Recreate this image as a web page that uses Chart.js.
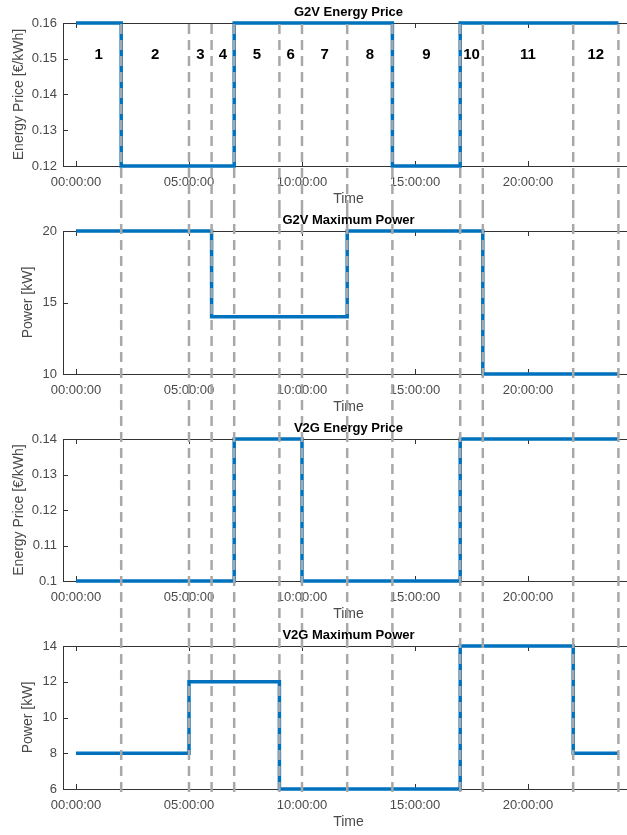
<!DOCTYPE html>
<html>
<head>
<meta charset="utf-8">
<script src="https://cdn.jsdelivr.net/npm/chart.js@4/dist/chart.umd.min.js"></script>
<style>
  html, body { margin: 0; padding: 0; background: #fff; overflow: hidden; }
  #wrap { position: relative; width: 627px; height: 835px; overflow: hidden; }
  canvas { position: absolute; left: 0; }
</style>
</head>
<body>
<div id="wrap">
  <canvas id="c1" width="634" height="208" style="top:0px"></canvas>
  <canvas id="c2" width="634" height="208" style="top:208px"></canvas>
  <canvas id="c3" width="634" height="207" style="top:416px"></canvas>
  <canvas id="c4" width="634" height="212" style="top:623px"></canvas>
</div>
<script>
// segment boundaries (hours) and the value held in each of the 12 segments
const boundaries = [0, 2, 5, 6, 7, 9, 10, 12, 14, 17, 18, 22, 24];
const segmentNames = ["1", "2", "3", "4", "5", "6", "7", "8", "9", "10", "11", "12"];

const g2vPrice = [0.16, 0.12, 0.12, 0.12, 0.16, 0.16, 0.16, 0.16, 0.12, 0.16, 0.16, 0.16];
const g2vPower = [20, 20, 20, 14, 14, 14, 14, 20, 20, 20, 10, 10];
const v2gPrice = [0.10, 0.10, 0.10, 0.10, 0.14, 0.14, 0.10, 0.10, 0.10, 0.14, 0.14, 0.14];
const v2gPower = [8, 8, 12, 12, 12, 6, 6, 6, 6, 14, 14, 8];

const hourTicks = [0, 5, 10, 15, 20];
const g2vPriceTicks = [0.12, 0.13, 0.14, 0.15, 0.16];
const g2vPowerTicks = [10, 15, 20];
const v2gPriceTicks = [0.10, 0.11, 0.12, 0.13, 0.14];
const v2gPowerTicks = [6, 8, 10, 12, 14];

const BLUE = "#0072BD";
const AXIS = "#4a4a4a";
const FONT = "Arial, 'Liberation Sans', sans-serif";

const framePlugin = {
  id: "frame",
  beforeDatasetsDraw(chart, args, o) {
    const { ctx, chartArea: a } = chart;
    const xs = chart.scales.x, ys = chart.scales.y;
    ctx.save();
    ctx.strokeStyle = "#333";
    ctx.lineWidth = 1;
    ctx.beginPath();
    ctx.moveTo(chart.width, a.top + 0.5);
    ctx.lineTo(a.left + 0.5, a.top + 0.5);
    ctx.lineTo(a.left + 0.5, a.bottom + 0.5);
    ctx.lineTo(chart.width, a.bottom + 0.5);
    for (const t of xs.ticks) {
      const px = Math.round(xs.getPixelForValue(t.value)) + 0.5;
      ctx.moveTo(px, a.top); ctx.lineTo(px, a.top + 5);
      ctx.moveTo(px, a.bottom); ctx.lineTo(px, a.bottom - 5);
    }
    for (const t of ys.ticks) {
      const py = Math.round(ys.getPixelForValue(t.value)) + 0.5;
      ctx.moveTo(a.left, py); ctx.lineTo(a.left + 5, py);
    }
    ctx.stroke();
    ctx.restore();
  },
  afterDatasetsDraw(chart, args, o) {
    const { ctx, chartArea: a } = chart;
    const xs = chart.scales.x;
    const y0 = o.dashTop === "area" ? a.top - 3 : 0;
    const y1 = o.dashBottom === "area" ? a.bottom + 6 : chart.height;
    ctx.save();
    ctx.strokeStyle = "#a8a8a8";
    ctx.lineWidth = 2.5;
    ctx.setLineDash([10, 6]);
    ctx.lineDashOffset = -((o.offsetTop + y0) % 16);
    for (const b of boundaries.slice(1)) {
      const px = xs.getPixelForValue(b);
      ctx.beginPath();
      ctx.moveTo(px, y0);
      ctx.lineTo(px, y1);
      ctx.stroke();
    }
    ctx.restore();
  },
  afterDraw(chart, args, o) {
    const { ctx, chartArea: a } = chart;
    ctx.save();
    ctx.fillStyle = "#000";
    ctx.font = "bold 13px " + FONT;
    ctx.textAlign = "center";
    ctx.textBaseline = "alphabetic";
    ctx.fillText(o.title, (a.left + a.right) / 2, a.top - 7);
    if (o.segmentLabels) {
      const xs = chart.scales.x, ys = chart.scales.y;
      ctx.font = "bold 15px " + FONT;
      ctx.textBaseline = "middle";
      segmentNames.forEach((name, i) => {
        const px = xs.getPixelForValue((boundaries[i] + boundaries[i + 1]) / 2);
        ctx.fillText(name, px, ys.getPixelForValue(0.151));
      });
    }
    ctx.restore();
  }
};

function stepData(values) {
  return boundaries.map((x, i) => ({ x, y: values[Math.min(i, values.length - 1)] }));
}

function makeChart(id, cfg) {
  return new Chart(document.getElementById(id), {
    type: "line",
    data: {
      datasets: [{
        data: stepData(cfg.values),
        borderColor: BLUE,
        borderWidth: 3.5,
        stepped: true,
        pointRadius: 0,
        fill: false,
        clip: false
      }]
    },
    options: {
      responsive: false,
      animation: false,
      devicePixelRatio: 1,
      layout: { padding: { top: 23, right: 0, left: 0, bottom: cfg.padBottom || 0 } },
      plugins: {
        legend: { display: false },
        tooltip: { enabled: false },
        frame: {
          title: cfg.title,
          segmentLabels: !!cfg.segmentLabels,
          dashTop: cfg.dashTop,
          dashBottom: cfg.dashBottom,
          offsetTop: cfg.offsetTop
        }
      },
      scales: {
        x: {
          type: "linear",
          min: -0.575,
          max: 24.69,
          grid: { display: false, drawTicks: false },
          border: { display: false },
          afterBuildTicks: s => { s.ticks = hourTicks.map(v => ({ value: v })); },
          afterFit: s => { s.height = 42; },
          ticks: {
            padding: 9,
            color: AXIS,
            font: { family: FONT, size: 13 },
            maxRotation: 0,
            autoSkip: false,
            callback: v => String(v).padStart(2, "0") + ":00:00"
          },
          title: {
            display: true,
            text: "Time",
            color: AXIS,
            font: { family: FONT, size: 14 },
            padding: { top: 0, bottom: 0 }
          }
        },
        y: {
          min: cfg.yTicks[0],
          max: cfg.yTicks[cfg.yTicks.length - 1],
          grid: { display: false, drawTicks: false },
          border: { display: false },
          afterBuildTicks: s => { s.ticks = cfg.yTicks.map(v => ({ value: v })); },
          afterFit: s => { s.width = 63; },
          ticks: {
            padding: 6,
            color: AXIS,
            font: { family: FONT, size: 13 },
            callback: v => String(+v.toFixed(2))
          },
          title: {
            display: true,
            text: cfg.yLabel,
            color: AXIS,
            font: { family: FONT, size: 14 },
            padding: { top: cfg.yTitlePad, bottom: 0 }
          }
        }
      }
    },
    plugins: [framePlugin]
  });
}

makeChart("c1", {
  title: "G2V Energy Price", values: g2vPrice, yTicks: g2vPriceTicks,
  yLabel: "Energy Price [€/kWh]", yTitlePad: 10.6, segmentLabels: true,
  dashTop: "area", offsetTop: 0
});
makeChart("c2", {
  title: "G2V Maximum Power", values: g2vPower, yTicks: g2vPowerTicks,
  yLabel: "Power [kW]", yTitlePad: 20, offsetTop: 208
});
makeChart("c3", {
  title: "V2G Energy Price", values: v2gPrice, yTicks: v2gPriceTicks,
  yLabel: "Energy Price [€/kWh]", yTitlePad: 10.6, offsetTop: 416
});
makeChart("c4", {
  title: "V2G Maximum Power", values: v2gPower, yTicks: v2gPowerTicks,
  yLabel: "Power [kW]", yTitlePad: 20, padBottom: 4,
  dashBottom: "area", offsetTop: 623
});
</script>
</body>
</html>
